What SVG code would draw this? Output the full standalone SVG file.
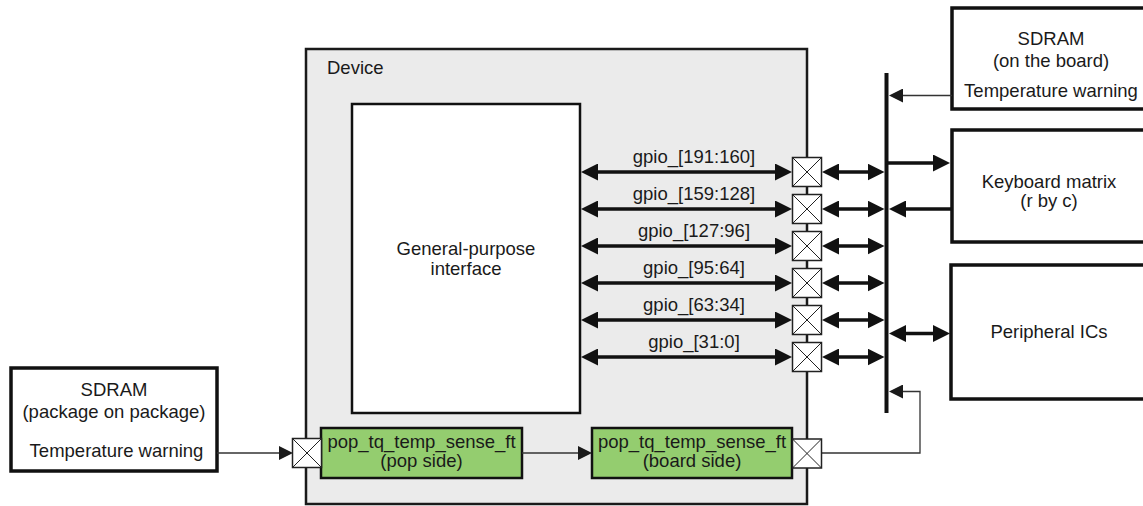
<svg xmlns="http://www.w3.org/2000/svg" xmlns:xlink="http://www.w3.org/1999/xlink" width="1143" height="506" viewBox="0 0 1143 506">
<defs>
<style>
text{font-family:"Liberation Sans",Arial,sans-serif;font-size:18.5px;fill:#1a1a1a}
.c{text-anchor:middle}
.ext{fill:#fff;stroke:#111;stroke-width:3.5}
.dev{fill:#ebebeb;stroke:#1a1a1a;stroke-width:2.5}
.gpi{fill:#fff;stroke:#111;stroke-width:2.5}
.grn{fill:#94cd6f;stroke:#111;stroke-width:2.5}
.xb{fill:#fff;stroke:#222;stroke-width:1.5}
.xd{stroke:#222;stroke-width:1}
.thick{stroke:#111;stroke-width:3.5;fill:none}
.thin{stroke:#333;stroke-width:1.3;fill:none}
.bus{stroke:#111;stroke-width:4}
</style>
<marker id="ah" markerUnits="userSpaceOnUse" markerWidth="17" markerHeight="17" refX="8" refY="8.5" orient="auto-start-reverse" viewBox="0 0 17 17">
<path d="M0,0 L17,8.5 L0,17 z" fill="#111"/>
</marker>
<marker id="at" markerUnits="userSpaceOnUse" markerWidth="14" markerHeight="14" refX="7" refY="7" orient="auto" viewBox="0 0 14 14">
<path d="M0,0 L14,7 L0,14 z" fill="#1a1a1a"/>
</marker>
<g id="xbox">
<rect class="xb" x="-14.5" y="-14.5" width="29" height="29"/>
<path class="xd" d="M-14.5,-14.5 L14.5,14.5 M14.5,-14.5 L-14.5,14.5"/>
</g>
</defs>

<g id="device">
<rect class="dev" x="306" y="49" width="501" height="455"/>
<text x="327" y="74">Device</text>
</g>

<g id="gpi">
<rect class="gpi" x="352" y="104" width="228" height="309"/>
<text class="c" x="466" y="255">General-purpose</text>
<text class="c" x="466" y="275">interface</text>
</g>

<g id="sdram-pop">
<rect class="ext" x="11" y="368" width="206" height="103"/>
<text class="c" x="114" y="396">SDRAM</text>
<text class="c" x="114" y="418">(package on package)</text>
<text class="c" x="116.5" y="457">Temperature warning</text>
</g>

<g id="sdram-board">
<rect class="ext" x="952" y="8" width="200" height="101"/>
<text class="c" x="1051" y="45">SDRAM</text>
<text class="c" x="1051" y="67">(on the board)</text>
<text class="c" x="1051" y="97">Temperature warning</text>
</g>

<g id="keyboard">
<rect class="ext" x="952" y="130" width="200" height="112"/>
<text class="c" x="1049" y="188">Keyboard matrix</text>
<text class="c" x="1049" y="207">(r by c)</text>
</g>

<g id="peripheral">
<rect class="ext" x="951" y="265" width="200" height="134"/>
<text class="c" x="1049" y="338">Peripheral ICs</text>
</g>

<g id="pop-side">
<rect class="grn" x="321" y="428" width="201" height="50"/>
<text class="c" x="421.5" y="448">pop_tq_temp_sense_ft</text>
<text class="c" x="421.5" y="467">(pop side)</text>
</g>

<g id="board-side">
<rect class="grn" x="592" y="428" width="200" height="50"/>
<text class="c" x="692" y="448">pop_tq_temp_sense_ft</text>
<text class="c" x="692" y="467">(board side)</text>
</g>

<g id="gpio-labels">
<text class="c" x="694" y="163">gpio_[191:160]</text>
<text class="c" x="694" y="200">gpio_[159:128]</text>
<text class="c" x="694" y="237">gpio_[127:96]</text>
<text class="c" x="694" y="274">gpio_[95:64]</text>
<text class="c" x="694" y="311">gpio_[63:34]</text>
<text class="c" x="694" y="348">gpio_[31:0]</text>
</g>

<g id="connectors">
<line class="bus" x1="886.5" y1="73" x2="886.5" y2="413"/>
<line class="thick" x1="590" y1="172" x2="783" y2="172" marker-start="url(#ah)" marker-end="url(#ah)"/>
<line class="thick" x1="590" y1="209" x2="783" y2="209" marker-start="url(#ah)" marker-end="url(#ah)"/>
<line class="thick" x1="590" y1="246" x2="783" y2="246" marker-start="url(#ah)" marker-end="url(#ah)"/>
<line class="thick" x1="590" y1="283" x2="783" y2="283" marker-start="url(#ah)" marker-end="url(#ah)"/>
<line class="thick" x1="590" y1="320" x2="783" y2="320" marker-start="url(#ah)" marker-end="url(#ah)"/>
<line class="thick" x1="590" y1="357" x2="783" y2="357" marker-start="url(#ah)" marker-end="url(#ah)"/>
<line class="thick" x1="831" y1="172" x2="875.5" y2="172" marker-start="url(#ah)" marker-end="url(#ah)"/>
<line class="thick" x1="831" y1="209" x2="875.5" y2="209" marker-start="url(#ah)" marker-end="url(#ah)"/>
<line class="thick" x1="831" y1="246" x2="875.5" y2="246" marker-start="url(#ah)" marker-end="url(#ah)"/>
<line class="thick" x1="831" y1="283" x2="875.5" y2="283" marker-start="url(#ah)" marker-end="url(#ah)"/>
<line class="thick" x1="831" y1="320" x2="875.5" y2="320" marker-start="url(#ah)" marker-end="url(#ah)"/>
<line class="thick" x1="831" y1="357" x2="875.5" y2="357" marker-start="url(#ah)" marker-end="url(#ah)"/>
<line class="thick" x1="886" y1="163" x2="941" y2="163" marker-end="url(#ah)"/>
<line class="thick" x1="952" y1="209" x2="898" y2="209" marker-end="url(#ah)"/>
<line class="thick" x1="898" y1="333.5" x2="941" y2="333.5" marker-start="url(#ah)" marker-end="url(#ah)"/>
<line class="thin" x1="952" y1="95.5" x2="896" y2="95.5" marker-end="url(#at)"/>
<line class="thin" x1="217" y1="453" x2="286" y2="453" marker-end="url(#at)"/>
<line class="thin" x1="522" y1="453" x2="585" y2="453" marker-end="url(#at)"/>
<polyline class="thin" points="822,453 920,453 920,391.5 896,391.5" marker-end="url(#at)"/>
</g>

<g id="pads">
<use xlink:href="#xbox" href="#xbox" x="807" y="172"/>
<use xlink:href="#xbox" href="#xbox" x="807" y="209"/>
<use xlink:href="#xbox" href="#xbox" x="807" y="246"/>
<use xlink:href="#xbox" href="#xbox" x="807" y="283"/>
<use xlink:href="#xbox" href="#xbox" x="807" y="320"/>
<use xlink:href="#xbox" href="#xbox" x="807" y="357"/>
<use xlink:href="#xbox" href="#xbox" x="307" y="453"/>
<use xlink:href="#xbox" href="#xbox" x="807" y="453.5"/>
</g>
</svg>
